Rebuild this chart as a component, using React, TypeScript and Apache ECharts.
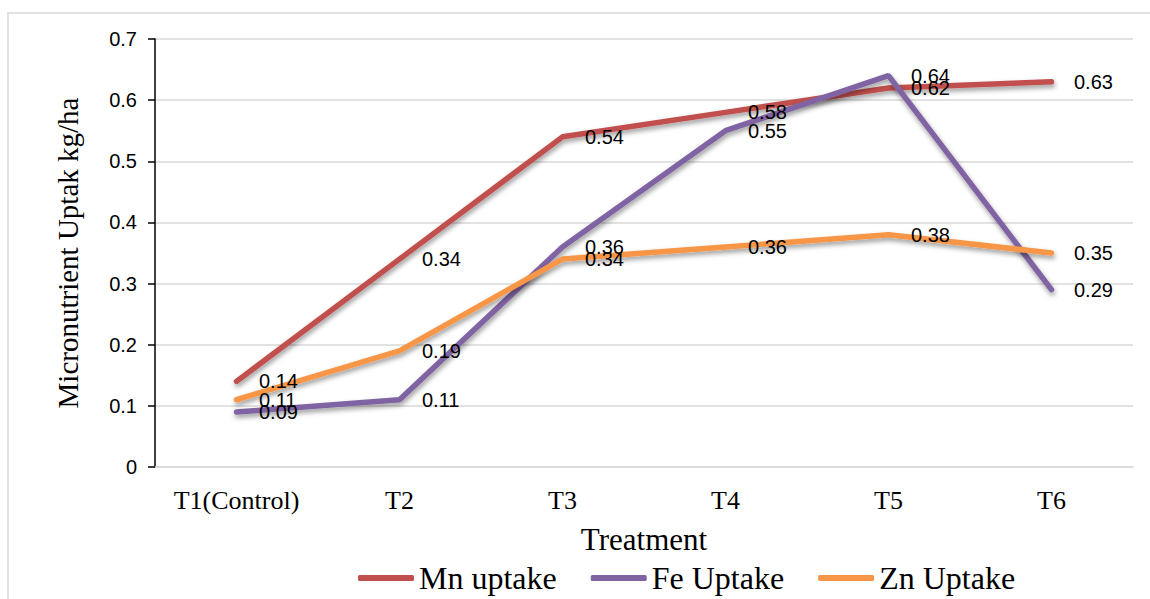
import React, { useEffect, useRef } from "react";
import * as echarts from "echarts";

const categories = ["T1(Control)", "T2", "T3", "T4", "T5", "T6"];
const mnUptake = [0.14, 0.34, 0.54, 0.58, 0.62, 0.63];
const feUptake = [0.09, 0.11, 0.36, 0.55, 0.64, 0.29];
const znUptake = [0.11, 0.19, 0.34, 0.36, 0.38, 0.35];
const seriesNames = ["Mn uptake", "Fe Uptake", "Zn Uptake"];
const seriesColors = ["#c0504d", "#8064a2", "#f79646"];

const serif = "'Liberation Serif', 'Times New Roman', serif";
const sans = "'Liberation Sans', Arial, sans-serif";

export default function App() {
  const ref = useRef<HTMLDivElement>(null);
  useEffect(() => {
    if (!ref.current) return;
    const chart = echarts.init(ref.current, undefined, { renderer: "svg" });
    const datasets = [mnUptake, feUptake, znUptake];
    chart.setOption({
      animation: false,
      backgroundColor: "#ffffff",
      graphic: [
        {
          type: "rect",
          shape: { x: 8, y: 13, width: 1160, height: 620 },
          style: { fill: "none", stroke: "#d9d9d9", lineWidth: 1.5 },
          silent: true,
        },
      ],
      grid: { left: 155, right: 17, top: 39, bottom: 132 },
      legend: {
        left: 353,
        top: 557,
        itemWidth: 56,
        itemHeight: 6,
        itemGap: 34,
        icon: "roundRect",
        textStyle: { fontFamily: serif, fontSize: 32, color: "#000" },
        data: seriesNames,
      },
      xAxis: {
        type: "category",
        data: categories,
        boundaryGap: true,
        name: "Treatment",
        nameLocation: "middle",
        nameGap: 57,
        nameTextStyle: { fontFamily: serif, fontSize: 31, color: "#000" },
        axisLine: { show: true, lineStyle: { color: "#d9d9d9", width: 1.5 } },
        axisTick: { show: false },
        axisLabel: { interval: 0, fontFamily: serif, fontSize: 26, color: "#000", margin: 20 },
        splitLine: { show: false },
      },
      yAxis: {
        type: "value",
        min: 0,
        max: 0.7,
        interval: 0.1,
        name: "Micronutrient Uptak kg/ha",
        nameLocation: "middle",
        nameGap: 73,
        nameTextStyle: { fontFamily: serif, fontSize: 29, color: "#000" },
        axisLine: { show: true, lineStyle: { color: "#000", width: 1.5 } },
        axisTick: { show: true, length: 7, lineStyle: { color: "#000", width: 1.5 } },
        axisLabel: {
          fontFamily: sans,
          fontSize: 20,
          color: "#000",
          margin: 18,
          formatter: (v: number) => (v === 0 ? "0" : String(Math.round(v * 10) / 10)),
        },
        splitLine: { show: true, lineStyle: { color: "#d9d9d9", width: 1.5 } },
      },
      series: datasets.map((d, i) => ({
        name: seriesNames[i],
        type: "line",
        data: d,
        symbol: "circle",
        symbolSize: 1,
        itemStyle: { color: seriesColors[i] },
        lineStyle: {
          color: seriesColors[i],
          width: 5.5,
          cap: "round",
          shadowColor: "rgba(0,0,0,0.4)",
          shadowBlur: 5,
          shadowOffsetX: 1,
          shadowOffsetY: 3,
        },
        label: {
          show: true,
          position: "right",
          distance: 22,
          fontFamily: sans,
          fontSize: 20,
          color: "#000",
          formatter: (p: any) => p.value.toFixed(2),
        },
        labelLayout: { hideOverlap: false },
      })),
    });
    return () => chart.dispose();
  }, []);
  return (
    <div
      ref={ref}
      style={{ position: "absolute", left: 0, top: 0, width: 1150, height: 599 }}
    />
  );
}
